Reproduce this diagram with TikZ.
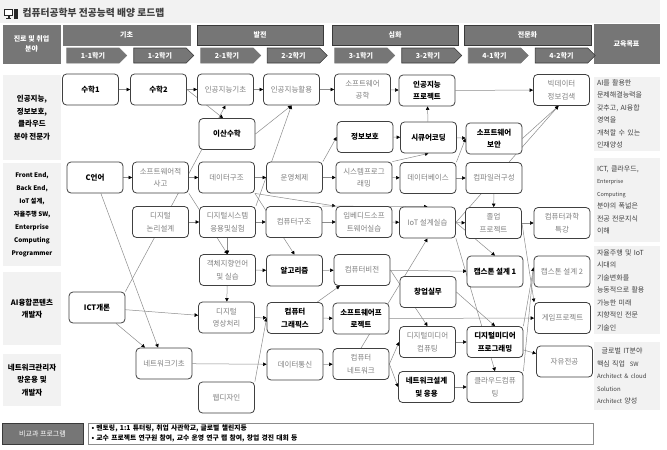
\documentclass[tikz,border=0pt]{standalone}
\usepackage{fontspec}
\setmainfont{Noto Sans CJK KR}
\usetikzlibrary{arrows.meta,shapes.symbols}
\definecolor{hdr}{HTML}{767676}
\definecolor{hdrd}{HTML}{3A3A3A}
\definecolor{lgray}{HTML}{F2F2F2}
\definecolor{txtg}{HTML}{7F7F7F}
\definecolor{edgec}{HTML}{8C8C8C}
\definecolor{bordc}{HTML}{404040}
\definecolor{goalt}{HTML}{404040}
\pgfdeclarelayer{bgl}
\pgfdeclarelayer{edgel}
\pgfsetlayers{bgl,edgel,main}
\begin{document}
\begin{tikzpicture}[x=1pt,y=-1pt,
 cbox/.style={draw=bordc, line width=0.8pt, rounded corners=4pt, fill=white, minimum width=56pt, minimum height=31pt, align=center, inner sep=1pt, font=\fontsize{7.5}{12.5}\selectfont, text=txtg},
 bbox/.style={cbox, font=\bfseries\fontsize{7.5}{12.5}\selectfont, text=black},
 ar/.style={draw=edgec, line width=0.5pt, -{Triangle[length=3.5pt,width=3.5pt,color=black]}},
 ln/.style={draw=edgec, line width=0.5pt},
 hbox/.style={fill=hdr, draw=hdr, line width=0.6pt, text=white, align=center, inner sep=0pt, font=\bfseries\fontsize{7}{10}\selectfont},
 hboxd/.style={hbox, draw=hdrd},
 sem/.style={signal, signal to=east, fill=hdr, draw=hdr, line width=0.6pt, text=white, inner sep=0pt, minimum width=60pt, minimum height=15pt, font=\bfseries\fontsize{7}{8}\selectfont},
 semd/.style={sem, draw=hdrd},
 side/.style={fill=lgray, align=center, inner sep=0pt, minimum width=58pt, font=\bfseries\fontsize{7.5}{12.5}\selectfont, text=black},
 goal/.style={fill=lgray, align=left, inner sep=3pt, text width=60pt, minimum width=66pt, font=\fontsize{7}{12.5}\selectfont, text=goalt},
]
\useasboundingbox (0,0) rectangle (667,450);
\begin{pgfonlayer}{bgl}
\fill[white] (0,0) rectangle (667,450);
\fill[lgray] (0,0) rectangle (660,23);
\end{pgfonlayer}
% title
\fill[black!85] (4,9) rectangle (13,16);
\fill[white] (5.2,10.2) rectangle (11.8,14.6);
\fill[black!85] (7.5,16) rectangle (9.5,18);
\fill[black!85] (6,18) rectangle (11,19);
\fill[black!85] (14,8.5) rectangle (17.5,19);
\node[anchor=west, font=\bfseries\fontsize{9.8}{11}\selectfont, text=goalt] (title) at (19,13) {컴퓨터공학부 전공능력 배양 로드맵};
% header
\node[hbox, minimum width=57pt, minimum height=38pt] (hcar) at (31.5,44) {진로 및 취업\\분야};
\node[hbox, minimum width=127pt, minimum height=20pt] (h1) at (126.5,35) {기초};
\node[hboxd, minimum width=126pt, minimum height=20pt] (h2) at (260,35) {발전};
\node[hboxd, minimum width=126pt, minimum height=20pt] (h3) at (395,35) {심화};
\node[hboxd, minimum width=127pt, minimum height=20pt] (h4) at (527.5,35) {전문화};
\node[hbox, minimum width=65pt, minimum height=39pt] (h5) at (626.5,43.5) {교육목표};
\node[sem] (s11) at (93,55.5) {1-1학기};
\node[semd] (s12) at (160,55.5) {1-2학기};
\node[sem] (s21) at (227,55.5) {2-1학기};
\node[semd] (s22) at (293.5,55.5) {2-2학기};
\node[sem] (s31) at (361,55.5) {3-1학기};
\node[semd] (s32) at (428,55.5) {3-2학기};
\node[sem] (s41) at (494.5,55.5) {4-1학기};
\node[semd] (s42) at (561.5,55.5) {4-2학기};
% side rows
\node[side, minimum height=85pt] (r1) at (32,117.5) {인공지능,\\정보보호,\\클라우드\\분야 전문가};
\node[side, minimum height=103pt, font=\bfseries\fontsize{6.3}{13}\selectfont] (r2) at (32,214.5) {Front End,\\Back End,\\IoT 설계,\\자율주행 SW,\\Enterprise\\Computing\\Programmer};
\node[side, minimum height=73pt] (r3) at (32,308.5) {AI융합콘텐츠\\개발자};
\node[side, minimum height=52pt] (r4) at (32,380) {네트워크관리자\\망운용 및\\개발자};
% goals
\node[goal, minimum height=72pt] (g1) at (627,114) {AI를 활용한\\문제해결능력을\\갖추고, AI융합\\영역을\\개척할 수 있는\\인재양성};
\node[goal, minimum height=84pt] (g2) at (627,200) {ICT, 클라우드,\\{\fontsize{5.5}{12.5}\selectfont Enterprise}\\{\fontsize{5.5}{12.5}\selectfont Computing}\\분야의 폭넓은\\전공 전문지식\\이해};
\node[goal, minimum height=86pt] (g3) at (627,290) {자율주행 및 IoT\\시대의\\기술변화를\\능동적으로 활용\\가능한 미래\\지향적인 전문\\기술인};
\node[goal, minimum height=68pt] (g4) at (627,376) {\ \ 글로벌 IT분야\\핵심 직업 \ {\fontsize{6}{12.5}\selectfont SW}\\{\fontsize{6}{12.5}\selectfont Architect \& cloud}\\{\fontsize{6}{12.5}\selectfont Solution}\\{\fontsize{6}{12.5}\selectfont Architect} 양성};
% bottom
\node[hbox, draw=hdrd, minimum width=81pt, minimum height=21pt, font=\fontsize{7}{8}\selectfont] (bk) at (42.5,433.5) {비교과 프로그램};
\node[draw=edgec, line width=0.6pt, minimum width=505pt, minimum height=21pt, text width=498pt, align=left, inner sep=2pt, font=\bfseries\fontsize{6.8}{10}\selectfont] (bt) at (340.5,433.5) {• 멘토링, 1:1 튜터링, 취업 사관학교, 글로벌 챌린지등\\• 교수 프로젝트 연구원 참여, 교수 운영 연구 랩 참여, 창업 경진 대회 등};
% column 1
\node[bbox] (m1) at (90.5,89.5) {수학1};
\node[bbox] (c) at (95,177.5) {C언어};
\node[bbox] (ict) at (97,307.5) {ICT개론};
% column 2
\node[bbox] (m2) at (158.5,89.5) {수학2};
\node[cbox] (swt) at (160.5,177.5) {소프트웨어적\\사고};
\node[cbox] (dl) at (160.5,222) {디지털\\논리설계};
\node[cbox] (nb) at (164,363.5) {네트워크기초};
% column 3
\node[cbox] (aib) at (225.5,89.5) {인공지능기초};
\node[bbox] (dm) at (227,134) {이산수학};
\node[cbox] (ds) at (226.5,177.5) {데이터구조};
\node[cbox] (dsys) at (227.5,222) {디지털시스템\\응용및실험};
\node[cbox] (oop) at (227.5,270) {객체지향언어\\및 실습};
\node[cbox] (dip) at (226.5,317.5) {디지털\\영상처리};
\node[cbox] (web) at (226.5,397.5) {웹디자인};
% column 4
\node[cbox] (aiu) at (291.5,89.5) {인공지능활용};
\node[cbox] (os) at (294.5,177.5) {운영체제};
\node[cbox] (cs) at (294,222) {컴퓨터구조};
\node[bbox] (alg) at (294.5,270.5) {알고리즘};
\node[bbox] (cg) at (295,318) {컴퓨터\\그래픽스};
\node[cbox] (dcom) at (295,364.5) {데이터통신};
% column 5
\node[cbox] (swe) at (362.5,89.5) {소프트웨어\\공학};
\node[bbox] (info) at (365,137) {정보보호};
\node[cbox] (sysp) at (364,177.5) {시스템프로그\\래밍};
\node[cbox] (emb) at (364,222) {임베디드소프\\트웨어실습};
\node[cbox] (cv) at (362,270) {컴퓨터비전};
\node[bbox] (swp) at (361,318.5) {소프트웨어프\\로젝트};
\node[cbox] (cnet) at (361,364) {컴퓨터\\네트워크};
% column 6
\node[bbox] (aip) at (427,90.5) {인공지능\\프로젝트};
\node[bbox] (sec) at (428.5,137.5) {시큐어코딩};
\node[cbox] (db) at (428,178) {데이터베이스};
\node[cbox] (iot) at (427.5,222.5) {IoT 설계실습};
\node[bbox] (start) at (428,292) {창업실무};
\node[cbox] (dmc) at (427.5,342) {디지털미디어\\컴퓨팅};
\node[bbox] (nd) at (426.5,387) {네트워크설계\\및 응용};
% column 7
\node[bbox] (swsec) at (494,138.5) {소프트웨어\\보안};
\node[cbox] (comp) at (494,178) {컴파일러구성};
\node[cbox] (grad) at (493.5,223) {졸업\\프로젝트};
\node[bbox] (cap1) at (495,271.5) {캡스톤 설계 1};
\node[bbox] (dmp) at (495,342) {디지털미디어\\프로그래밍};
\node[cbox] (cloud) at (495,387) {클라우드컴퓨\\팅};
% column 8
\node[cbox] (bigd) at (561.5,90) {빅데이터\\정보검색};
\node[cbox] (cst) at (562,223) {컴퓨터과학\\특강};
\node[cbox] (cap2) at (562,271.5) {캡스톤 설계 2};
\node[cbox] (game) at (562.5,318) {게임프로젝트};
\node[cbox] (free) at (564.5,361.5) {자유전공};
% edges
\begin{pgfonlayer}{edgel}
\draw[ar] (m1) -- (m2);
\draw[ar] (m2) -- (aib);
\draw[ar] (m2.east) -- ([xshift=-4pt]dm.north);
\draw[ar] (ict.north east) -- (aib.south);
\draw[ar] (aib) -- (aiu);
\draw[ar] (dm.east) -- (aiu.south);
\draw[ar] (dsys.north east) -- (aiu.south);
\draw[ar] (aiu) -- (swe);
\draw[ar] (swe) -- (aip);
\draw[ar] (aip) -- (bigd);
\draw[ar] (sec) -- (aip);
\draw[ar] (info) -- (sec);
\draw[ar] (sec) -- (swsec);
\draw[ar] (db.north east) -- (swsec.west);
\draw[ar] (os.north east) -- (info.west);
\draw[ar] (os) -- (sysp);
\draw[ar] (ds) -- (os);
\draw[ar] (sysp) -- (db);
\draw[ar] (sysp.north east) -- (sec.south);
\draw[ar] (db) -- (comp);
\draw[ar] (swsec.east) -- ([xshift=-3pt]bigd.south);
\draw[ar] (iot.east) -- ([xshift=-3pt]bigd.south);
\draw[ar] (c) -- (swt);
\draw[ar] (swt) -- (ds);
\draw[ar] (dl) -- (dsys);
\draw[ar] (c) -- (nb);
\draw[ar] (ict) -- (dip);
\draw[ar] (ict) -- (nb);
\draw[ar] (dsys) -- (cs);
\draw[ar] (dsys) -- (oop);
\draw[ar] (swt.south east) -- (oop.north);
\draw[ar] (oop) -- (alg);
\draw[ar] (ds.south east) -- (alg.north);
\draw[ar] (ds.south east) -- (emb.north west);
\draw[ar] (cs) -- (emb);
\draw[ar] (cs.north east) -- (iot.north);
\draw[ar] (alg) -- (cv);
\draw[ar] (cg) -- (cv);
\draw[ar] (oop) -- (dip);
\draw[ar] (dip) -- (cg);
\draw[ar] (web.north east) -- (cg.west);
\draw[ar] (nb) -- (dcom);
\draw[ar] (dcom) -- (cnet);
\draw[ar] (cg) -- (swp);
\draw[ar] (cnet.east) -- (dmc.west);
\draw[ar] (cnet.east) -- (nd.west);
\draw[ar] (cnet.north) -- (iot.south);
\draw[ar] (dmc) -- (dmp);
\draw[ar] (nd) -- (cloud);
\draw[ar] (dmp) -- (free);
\draw[ar] (iot.south east) -- (cloud.north);
\draw[ar] (start.east) -- (dmp.north);
\draw[ar] (cv.east) -- (dmc.north);
\draw[ar] (swp) -- (game);
\draw[ar] (emb) -- (iot);
\draw[ar] (cv) -- (cap1);
\draw[ar] (iot) -- (grad);
\draw[ar] (iot.east) -- (cap1.north);
\draw[ar] (comp) -- (grad);
\draw[ar] (grad) -- (cst);
\draw[ar] (grad.east) -- (game.north west);
\draw[ar] (dmp.north east) -- ([yshift=4pt]cap2.west);
\draw[ar] (cloud.north east) -- ([yshift=4pt]cap2.west);
\end{pgfonlayer}
\end{tikzpicture}
\end{document}
